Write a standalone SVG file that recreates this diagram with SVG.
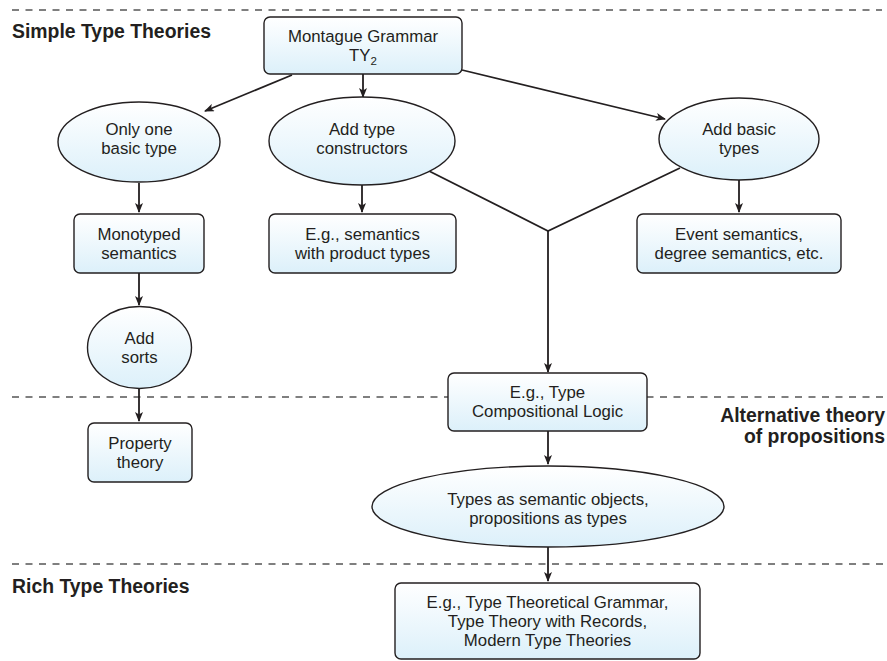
<svg xmlns="http://www.w3.org/2000/svg" width="887" height="661" viewBox="0 0 887 661">
<defs>
<linearGradient id="g" x1="0" y1="0" x2="0" y2="1">
<stop offset="0" stop-color="#ffffff"/>
<stop offset="1" stop-color="#dcf0fa"/>
</linearGradient>
<marker id="ah" markerWidth="10" markerHeight="8" refX="9" refY="4" orient="auto" markerUnits="userSpaceOnUse">
<path d="M0,0 L10,4 L0,8 L2.5,4 Z" fill="#231f20"/>
</marker>
<style>
.n{fill:url(#g);stroke:#231f20;stroke-width:1.4}
.t{font-family:"Liberation Sans",Arial,sans-serif;font-size:16.8px;fill:#231f20;text-anchor:middle}
.h{font-family:"Liberation Sans",Arial,sans-serif;font-size:19.4px;font-weight:bold;fill:#231f20}
.d{stroke:#555;stroke-width:1.3;stroke-dasharray:7 6.5;fill:none}
.c{stroke:#231f20;stroke-width:1.8;fill:none}
.a{marker-end:url(#ah)}
</style>
</defs>
<rect width="887" height="661" fill="#fff"/>
<g id="dividers">
<line class="d" x1="12" y1="10" x2="882" y2="10"/>
<line class="d" x1="12" y1="397" x2="887" y2="397"/>
<line class="d" x1="12" y1="564" x2="887" y2="564"/>
</g>
<g id="labels">
<text class="h" x="12" y="38">Simple Type Theories</text>
<text class="h" x="885" y="421.5" text-anchor="end" font-size="18.6px">Alternative theory</text>
<text class="h" x="885" y="442.5" text-anchor="end" font-size="18.6px">of propositions</text>
<text class="h" x="12" y="593">Rich Type Theories</text>
</g>
<g id="connectors">
<line class="c a" x1="292" y1="75" x2="205" y2="111"/>
<line class="c a" x1="363" y1="74" x2="363" y2="97"/>
<line class="c a" x1="462" y1="70" x2="665" y2="119"/>
<line class="c a" x1="139" y1="183" x2="139" y2="212"/>
<line class="c a" x1="362" y1="185" x2="362" y2="212"/>
<line class="c a" x1="739" y1="180" x2="739" y2="212"/>
<polyline class="c" points="427,170 548,231 680,168"/>
<line class="c a" x1="548" y1="231" x2="548" y2="372"/>
<line class="c a" x1="139" y1="273" x2="139" y2="305"/>
<line class="c a" x1="139" y1="388" x2="139" y2="421"/>
<line class="c a" x1="548" y1="431" x2="548" y2="464"/>
<line class="c a" x1="548" y1="547" x2="548" y2="581"/>
</g>
<g id="montague">
<rect class="n" x="264" y="17" width="198" height="57" rx="6"/>
<text class="t" x="363" y="41.5">Montague Grammar</text>
<text class="t" x="363" y="60.5">TY<tspan font-size="11.5" dy="4">2</tspan></text>
</g>
<g id="only-one">
<ellipse class="n" cx="139" cy="142" rx="81" ry="40"/>
<text class="t" x="139" y="135">Only one</text>
<text class="t" x="139" y="154">basic type</text>
</g>
<g id="add-type-constructors">
<ellipse class="n" cx="362" cy="141" rx="93" ry="44"/>
<text class="t" x="362" y="135">Add type</text>
<text class="t" x="362" y="154">constructors</text>
</g>
<g id="add-basic-types">
<ellipse class="n" cx="739" cy="139" rx="80" ry="41"/>
<text class="t" x="739" y="135">Add basic</text>
<text class="t" x="739" y="154">types</text>
</g>
<g id="monotyped">
<rect class="n" x="74" y="214" width="130" height="59" rx="6"/>
<text class="t" x="139" y="239.5">Monotyped</text>
<text class="t" x="139" y="258.5">semantics</text>
</g>
<g id="product-types">
<rect class="n" x="269" y="214" width="187" height="59" rx="6"/>
<text class="t" x="362.5" y="239.5">E.g., semantics</text>
<text class="t" x="362.5" y="258.5">with product types</text>
</g>
<g id="event-semantics">
<rect class="n" x="637" y="214" width="204" height="59" rx="6"/>
<text class="t" x="739" y="239.5">Event semantics,</text>
<text class="t" x="739" y="258.5">degree semantics, etc.</text>
</g>
<g id="add-sorts">
<ellipse class="n" cx="139.5" cy="347.5" rx="52" ry="41"/>
<text class="t" x="139.5" y="343.5">Add</text>
<text class="t" x="139.5" y="362.5">sorts</text>
</g>
<g id="property-theory">
<rect class="n" x="88" y="423" width="104" height="59" rx="6"/>
<text class="t" x="140" y="448.5">Property</text>
<text class="t" x="140" y="467.5">theory</text>
</g>
<g id="tcl">
<rect class="n" x="448" y="373" width="199" height="58" rx="6"/>
<text class="t" x="547.5" y="398">E.g., Type</text>
<text class="t" x="547.5" y="417">Compositional Logic</text>
</g>
<g id="types-as-objects">
<ellipse class="n" cx="548" cy="506.5" rx="176" ry="40.5"/>
<text class="t" x="548" y="504.5">Types as semantic objects,</text>
<text class="t" x="548" y="523.5">propositions as types</text>
</g>
<g id="rich">
<rect class="n" x="395" y="583" width="305" height="76" rx="6"/>
<text class="t" x="547.5" y="607.5">E.g., Type Theoretical Grammar,</text>
<text class="t" x="547.5" y="626.5">Type Theory with Records,</text>
<text class="t" x="547.5" y="645.5">Modern Type Theories</text>
</g>
</svg>
